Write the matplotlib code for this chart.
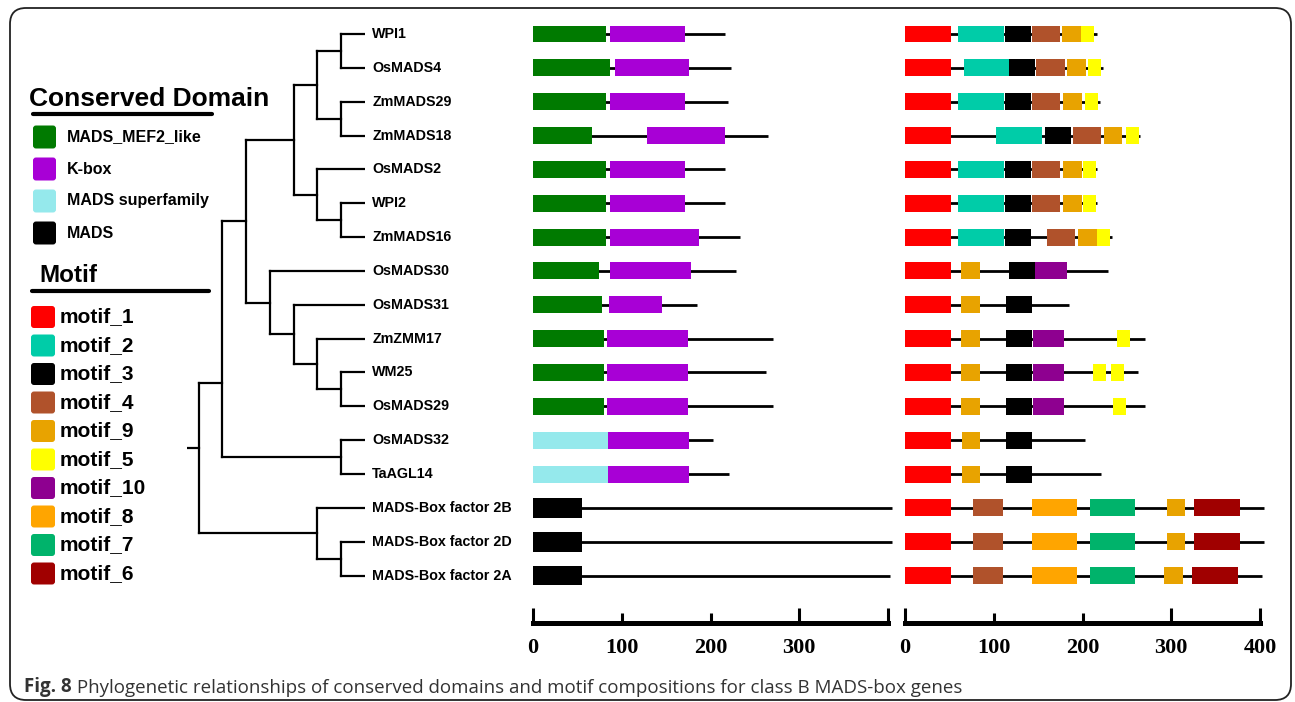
import numpy as np
import matplotlib
matplotlib.use("Agg")
import matplotlib.pyplot as plt
from matplotlib.patches import FancyBboxPatch

W, H = 1295, 702

genes = ["WPI1", "OsMADS4", "ZmMADS29", "ZmMADS18", "OsMADS2", "WPI2",
         "ZmMADS16", "OsMADS30", "OsMADS31", "ZmZMM17", "WM25", "OsMADS29",
         "OsMADS32", "TaAGL14", "MADS-Box factor 2B", "MADS-Box factor 2D",
         "MADS-Box factor 2A"]
prot_len = [216, 223, 220, 265, 216, 216, 233, 229, 185, 270, 262, 270,
            203, 221, 404, 404, 402]

domain_names = ["MADS_MEF2_like", "K-box", "MADS superfamily", "MADS"]
domain_colors = ["#007a00", "#a800d6", "#95e9ec", "#000000"]

motif_names = ["motif_1", "motif_2", "motif_3", "motif_4", "motif_9",
               "motif_5", "motif_10", "motif_8", "motif_7", "motif_6"]
motif_colors = ["#ff0000", "#00cca8", "#000000", "#b0522b", "#e8a300",
                "#ffff00", "#8e0090", "#ffa500", "#00b36b", "#a00000"]

# (domain, start, end) per gene
gene_domains = [
    [("MADS_MEF2_like", 0, 82), ("K-box", 87, 171)],
    [("MADS_MEF2_like", 0, 87), ("K-box", 92, 176)],
    [("MADS_MEF2_like", 0, 82), ("K-box", 87, 171)],
    [("MADS_MEF2_like", 0, 67), ("K-box", 129, 216)],
    [("MADS_MEF2_like", 0, 82), ("K-box", 87, 171)],
    [("MADS_MEF2_like", 0, 82), ("K-box", 87, 171)],
    [("MADS_MEF2_like", 0, 82), ("K-box", 87, 187)],
    [("MADS_MEF2_like", 0, 74), ("K-box", 87, 178)],
    [("MADS_MEF2_like", 0, 78), ("K-box", 86, 145)],
    [("MADS_MEF2_like", 0, 80), ("K-box", 83, 175)],
    [("MADS_MEF2_like", 0, 80), ("K-box", 83, 175)],
    [("MADS_MEF2_like", 0, 80), ("K-box", 83, 175)],
    [("MADS superfamily", 0, 84), ("K-box", 85, 176)],
    [("MADS superfamily", 0, 84), ("K-box", 85, 176)],
    [("MADS", 0, 55)],
    [("MADS", 0, 55)],
    [("MADS", 0, 55)],
]

# (motif, start, end) per gene
gene_motifs = [
    [("motif_1", 0, 52), ("motif_2", 60, 112), ("motif_3", 113, 142),
     ("motif_4", 143, 175), ("motif_9", 177, 198), ("motif_5", 198, 213)],
    [("motif_1", 0, 52), ("motif_2", 66, 117), ("motif_3", 117, 147),
     ("motif_4", 148, 180), ("motif_9", 183, 204), ("motif_5", 206, 221)],
    [("motif_1", 0, 52), ("motif_2", 60, 112), ("motif_3", 113, 142),
     ("motif_4", 143, 175), ("motif_9", 178, 199), ("motif_5", 203, 218)],
    [("motif_1", 0, 52), ("motif_2", 103, 154), ("motif_3", 158, 187),
     ("motif_4", 189, 221), ("motif_9", 224, 245), ("motif_5", 249, 264)],
    [("motif_1", 0, 52), ("motif_2", 60, 112), ("motif_3", 113, 142),
     ("motif_4", 143, 175), ("motif_9", 178, 199), ("motif_5", 200, 215)],
    [("motif_1", 0, 52), ("motif_2", 60, 112), ("motif_3", 113, 142),
     ("motif_4", 143, 175), ("motif_9", 178, 199), ("motif_5", 200, 215)],
    [("motif_1", 0, 52), ("motif_2", 60, 112), ("motif_3", 113, 142),
     ("motif_4", 160, 192), ("motif_9", 195, 216), ("motif_5", 216, 231)],
    [("motif_1", 0, 52), ("motif_9", 63, 84), ("motif_3", 117, 146),
     ("motif_10", 147, 182)],
    [("motif_1", 0, 52), ("motif_9", 63, 84), ("motif_3", 114, 143)],
    [("motif_1", 0, 52), ("motif_9", 63, 84), ("motif_3", 114, 143),
     ("motif_10", 144, 179), ("motif_5", 239, 254)],
    [("motif_1", 0, 52), ("motif_9", 63, 84), ("motif_3", 114, 143),
     ("motif_10", 144, 179), ("motif_5", 212, 227), ("motif_5", 232, 247)],
    [("motif_1", 0, 52), ("motif_9", 63, 84), ("motif_3", 114, 143),
     ("motif_10", 144, 179), ("motif_5", 234, 249)],
    [("motif_1", 0, 52), ("motif_9", 64, 85), ("motif_3", 114, 143)],
    [("motif_1", 0, 52), ("motif_9", 64, 85), ("motif_3", 114, 143)],
    [("motif_1", 0, 52), ("motif_4", 77, 110), ("motif_8", 143, 194),
     ("motif_7", 208, 259), ("motif_9", 295, 316), ("motif_6", 326, 377)],
    [("motif_1", 0, 52), ("motif_4", 77, 110), ("motif_8", 143, 194),
     ("motif_7", 208, 259), ("motif_9", 295, 316), ("motif_6", 326, 377)],
    [("motif_1", 0, 52), ("motif_4", 77, 110), ("motif_8", 143, 194),
     ("motif_7", 208, 259), ("motif_9", 292, 313), ("motif_6", 323, 375)],
]

# cladogram: (level, children[, attach row]); leaves are gene names
tree = (0.5, [
    (1.5, [
        (2.5, [
            (4.5, [
                (5.5, [(6.5, ["WPI1", "OsMADS4"]),
                       (6.5, ["ZmMADS29", "ZmMADS18"])]),
                (5.5, ["OsMADS2", (6.5, ["WPI2", "ZmMADS16"])]),
            ]),
            (3.5, ["OsMADS30",
                   (4.5, ["OsMADS31",
                          (5.5, ["ZmZMM17", (6.5, ["WM25", "OsMADS29"])])])]),
        ]),
        (6.5, ["OsMADS32", "TaAGL14"]),
    ], 10.3),
    (5.5, ["MADS-Box factor 2B",
           (6.5, ["MADS-Box factor 2D", "MADS-Box factor 2A"])]),
], 12.24)
leaf_level = 7.5

scale_ticks = [0, 100, 200, 300, 400]
left_tick_labels = ["0", "100", "200", "300", ""]
right_tick_labels = ["0", "100", "200", "300", "400"]

sans = ["Liberation Sans", "DejaVu Sans"]

fig = plt.figure(figsize=(W / 100, H / 100), dpi=100)

# pixel-space canvas for frame, legend and caption
bg = fig.add_axes([0, 0, 1, 1])
bg.set_xlim(0, W)
bg.set_ylim(H, 0)
bg.axis("off")

bg.add_patch(FancyBboxPatch((10, 8), 1281, 692,
                            boxstyle="round,pad=0,rounding_size=16",
                            fc="white", ec="#222222", lw=1.3))

row0, row_step = 34, 33.85
n = len(genes)
y_top = row0 - row_step / 2
y_bot = row0 + row_step * (n - 0.5)


def px_axes(x0, x1):
    ax = fig.add_axes([x0 / W, 1 - y_bot / H, (x1 - x0) / W, (y_bot - y_top) / H])
    ax.set_ylim(n - 0.5, -0.5)
    ax.patch.set_alpha(0)
    return ax


# --- tree ---
tax = px_axes(186.7, 365)
tax.set_xlim(0, leaf_level)
tax.axis("off")
tree_kw = dict(color="black", lw=1.6, solid_capstyle="projecting")


def draw_node(node):
    if isinstance(node, str):
        return leaf_level, genes.index(node)
    level, kids = node[0], node[1]
    ys = []
    for kid in kids:
        kx, ky = draw_node(kid)
        tax.plot([level, kx], [ky, ky], **tree_kw)
        ys.append(ky)
    tax.plot([level, level], [min(ys), max(ys)], **tree_kw)
    y = node[2] if len(node) > 2 else np.mean(ys)
    return level, y


rx, ry = draw_node(tree)
tax.plot([0, rx], [ry, ry], **tree_kw)

for i, g in enumerate(genes):
    tax.text(leaf_level + 0.3, i, g, va="center", ha="left", fontsize=10.3,
             fontweight="bold", family=sans, clip_on=False)


# --- domain and motif panels ---
def draw_panel(ax, features, names, colors, tick_labels):
    cmap = dict(zip(names, colors))
    ax.set_xlim(0, 400)
    ax.hlines(range(n), 0, prot_len, color="black", lw=2, clip_on=False, zorder=1)
    for i, feats in enumerate(features):
        for name, s, e in feats:
            h = 0.58 if name == "MADS" else 0.5
            ax.barh(i, e - s, left=s, height=h, color=cmap[name],
                    clip_on=False, zorder=2)
    for side in ["top", "left", "right"]:
        ax.spines[side].set_visible(False)
    ax.spines["bottom"].set_position(("outward", 22))
    ax.spines["bottom"].set_linewidth(3.6)
    ax.set_yticks([])
    ax.set_xticks(scale_ticks)
    ax.set_xticklabels(tick_labels, family=["Liberation Serif", "DejaVu Serif"],
                       fontweight="bold", fontsize=16)
    ax.tick_params(axis="x", direction="in", width=2.2, length=10.8, pad=11)
    for t, v in zip(ax.xaxis.get_major_ticks(), scale_ticks):
        if v in (100, 200):
            t.tick1line.set_markersize(7.2)


dax = px_axes(533, 888)
draw_panel(dax, gene_domains, domain_names, domain_colors, left_tick_labels)
max_ = px_axes(905, 1260)
draw_panel(max_, gene_motifs, motif_names, motif_colors, right_tick_labels)

# --- legends ---
bg.text(29, 99, "Conserved Domain", fontsize=19, fontweight="bold", family=sans,
        va="center", ha="left")
bg.plot([33, 212], [114, 114], color="black", lw=3, solid_capstyle="round")
for k, (name, col) in enumerate(zip(domain_names, domain_colors)):
    yc = 137 + 32 * k
    bg.add_patch(FancyBboxPatch((33, yc - 11.5), 23, 23,
                                boxstyle="round,pad=0,rounding_size=3",
                                fc=col, ec="none"))
    bg.text(67, yc, name, fontsize=11.5, fontweight="bold", family=sans,
            va="center", ha="left")

bg.text(39, 275, "Motif", fontsize=17.5, fontweight="bold", family=sans,
        va="center", ha="left")
bg.plot([32, 209], [291, 291], color="black", lw=3, solid_capstyle="round")
for k, (name, col) in enumerate(zip(motif_names, motif_colors)):
    yc = 317 + 28.5 * k
    bg.add_patch(FancyBboxPatch((31, yc - 11), 24, 22,
                                boxstyle="round,pad=0,rounding_size=3",
                                fc=col, ec="none"))
    bg.text(60, yc, name, fontsize=15, fontweight="bold", family=sans,
            va="center", ha="left")

# --- caption ---
cap = bg.text(24, 687, "Fig. 8", fontsize=13.5, fontweight="bold",
              family=["Open Sans", "DejaVu Sans"], color="#333333",
              va="center", ha="left")
bg.annotate(" Phylogenetic relationships of conserved domains and motif "
            "compositions for class B MADS-box genes",
            xy=(1, 0), xycoords=cap, va="bottom", ha="left", fontsize=13.5,
            family=["Open Sans", "DejaVu Sans"], color="#333333")

fig.savefig("out.png", dpi=100)
